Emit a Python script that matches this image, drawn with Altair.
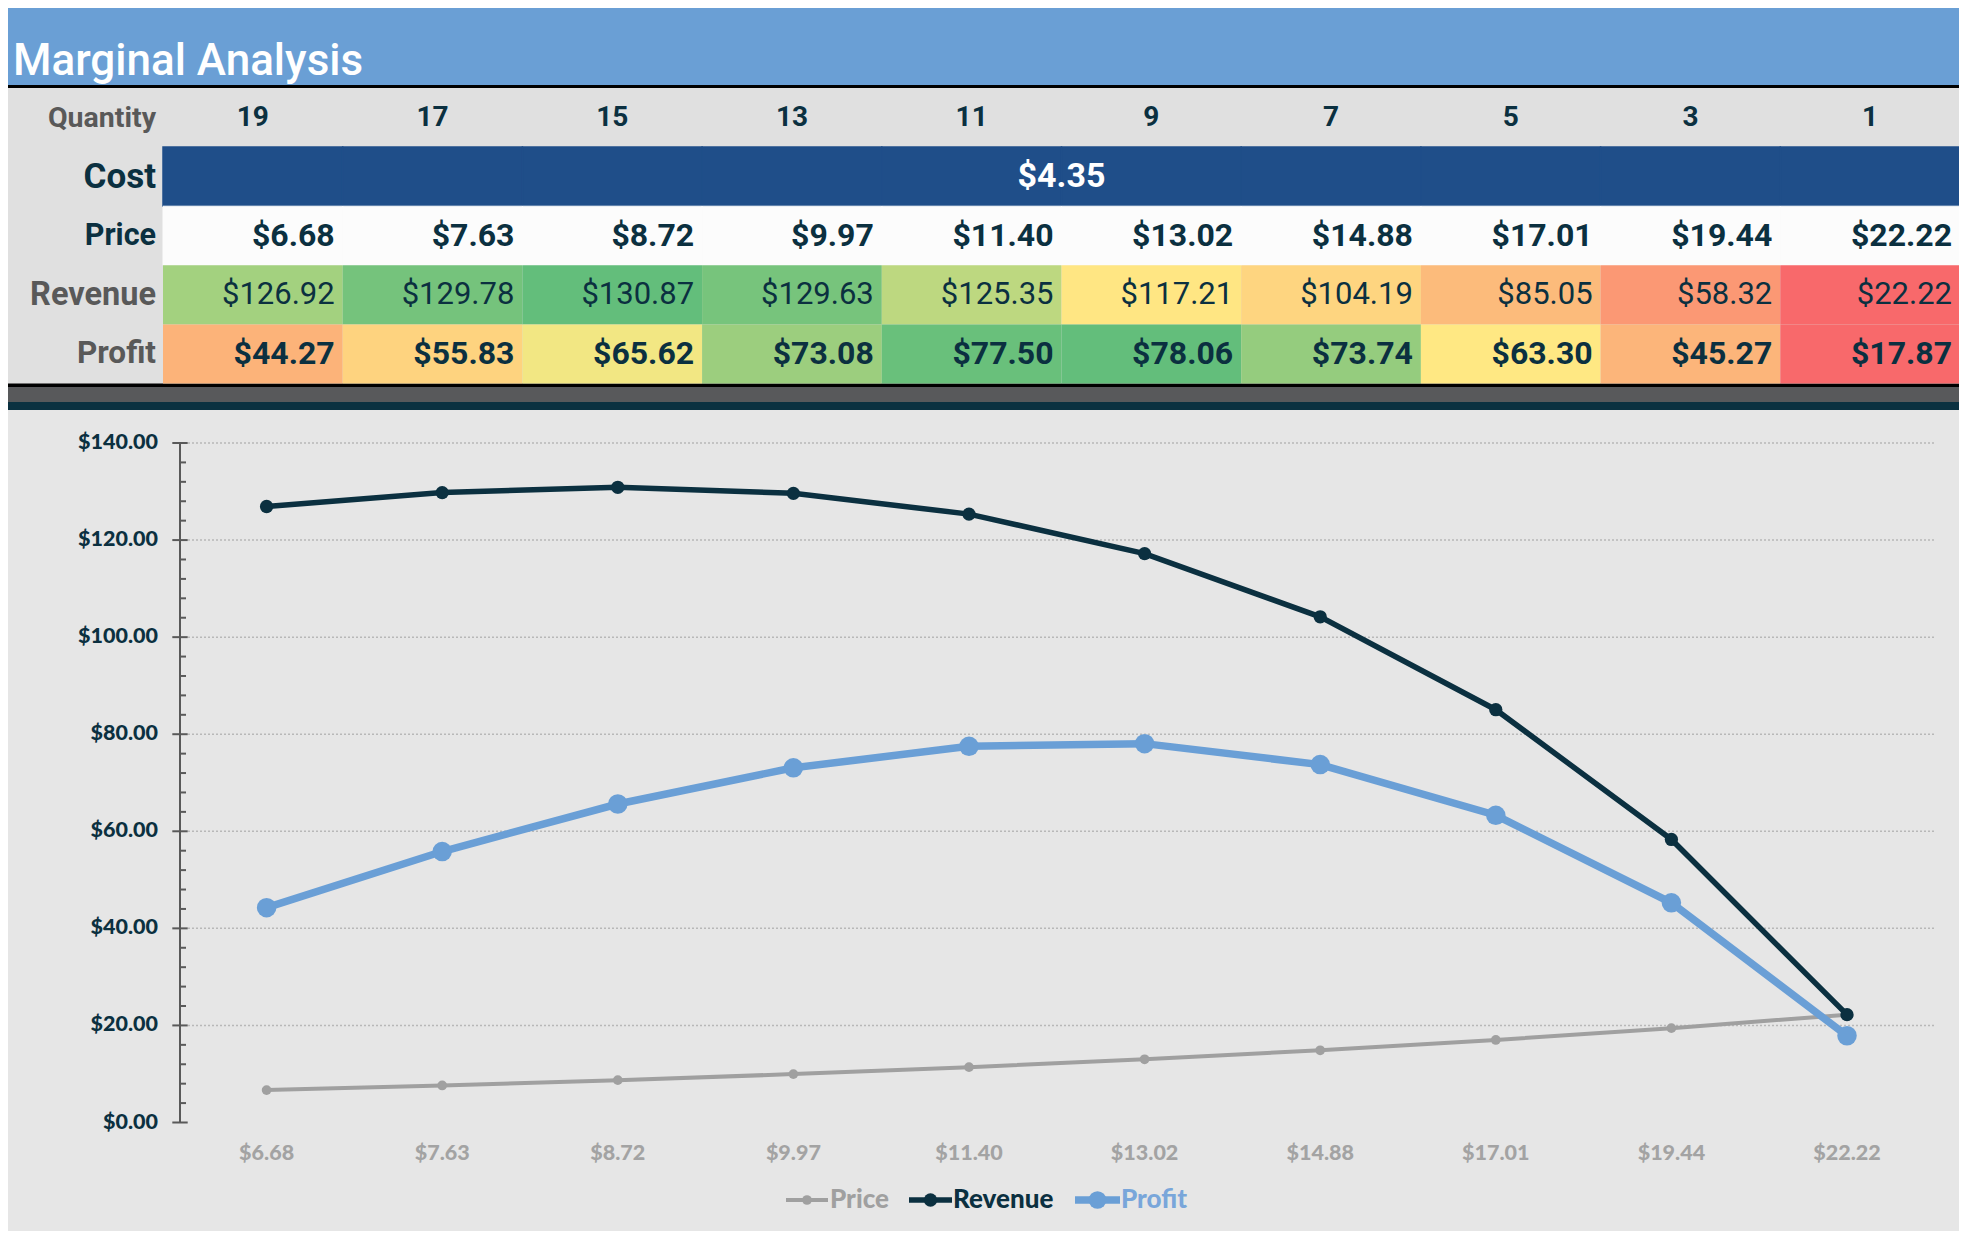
import math
import altair as alt
import numpy as np
import pandas as pd

# ---------------- data ----------------
quantities = [19, 17, 15, 13, 11, 9, 7, 5, 3, 1]
unit_cost = 4.35
prices = [6.68, 7.63, 8.72, 9.97, 11.40, 13.02, 14.88, 17.01, 19.44, 22.22]
revenue = [126.92, 129.78, 130.87, 129.63, 125.35, 117.21, 104.19, 85.05, 58.32, 22.22]
profit = [44.27, 55.83, 65.62, 73.08, 77.50, 78.06, 73.74, 63.30, 45.27, 17.87]
price_labels = ["$6.68", "$7.63", "$8.72", "$9.97", "$11.40", "$13.02",
                "$14.88", "$17.01", "$19.44", "$22.22"]
row_names = ["Quantity", "Cost", "Price", "Revenue", "Profit"]
series_names = ["Price", "Revenue", "Profit"]
y_ticks = [0, 20, 40, 60, 80, 100, 120, 140]
title_text = "Marginal Analysis"

# ---------------- styles ----------------
W, H = 1951, 1223
TEAL = "#0b3140"
DARK = "#0b3040"
GRAY_TXT = "#595959"
TITLE_BLUE = "#6a9fd5"
COST_BLUE = "#1f4e89"
LABEL_BG = "#e0e0e0"
CHART_BG = "#e6e6e6"
PRICE_C = "#a0a0a0"
PROFIT_C = "#6a9fd6"
HEAT = ["#F8696B", "#FFEB84", "#63BE7B"]

TABLE_X = [155, 1952]
TABLE_Y = [80, 375.5]
PLOT_X = [258.6, 1839]
PLOT_Y = [1114.5, 435]

# ---------------- tables ----------------
cells = pd.DataFrame({
    "q": quantities * 3,
    "row": ["Price"] * len(quantities) + ["Revenue"] * len(quantities) + ["Profit"] * len(quantities),
    "value": prices + revenue + profit,
})
qty_df = pd.DataFrame({"q": quantities, "row": "Quantity"})
cost_df = pd.DataFrame({"q": quantities, "row": "Cost", "value": unit_cost})
mid_q = quantities[len(quantities) // 2 - 1]
cost_mid = pd.DataFrame({"q": [mid_q], "row": ["Cost"], "value": [unit_cost]})
label_df = pd.DataFrame({"row": row_names})

line_df = pd.DataFrame({
    "label": price_labels * 3,
    "series": ["Price"] * 10 + ["Revenue"] * 10 + ["Profit"] * 10,
    "value": prices + revenue + profit,
})
tick_df = pd.DataFrame({"v": y_ticks})
minor_df = pd.DataFrame({"v": [v for v in range(0, 141, 4) if v % 20]})
xlab_df = pd.DataFrame({"label": price_labels})
one = pd.DataFrame({"a": [0]})


def XQ(**kw):
    return alt.X("q:O", scale=alt.Scale(type="band", domain=quantities, range=TABLE_X,
                                        paddingInner=0, paddingOuter=0), axis=None, **kw)


def YR():
    return alt.Y("row:N", scale=alt.Scale(type="band", domain=row_names, range=TABLE_Y,
                                          paddingInner=0, paddingOuter=0), axis=None)


def XP():
    return alt.X("label:N", scale=alt.Scale(type="point", domain=price_labels, range=PLOT_X,
                                            padding=0), axis=None)


def YV(field="value:Q"):
    return alt.Y(field, scale=alt.Scale(domain=[0, 140], range=PLOT_Y, nice=False, zero=True), axis=None)


def box(x0, x1, y0, y1, color):
    return alt.Chart(one).mark_rect(color=color).encode(
        x=alt.value(x0), x2=alt.value(x1), y=alt.value(y0), y2=alt.value(y1))


layers = []
# frame decorations
layers.append(box(0, W, 0, 379, "#000000"))
layers.append(box(0, W, 379, 394, "#58595b"))
layers.append(box(0, W, 402, H, CHART_BG))
layers.append(box(0, W, 0, 77, TITLE_BLUE))
layers.append(box(0, W, 80, 375.5, LABEL_BG))

# title
layers.append(alt.Chart(one).mark_text(
    text=title_text, align="left", baseline="alphabetic", font="Roboto",
    fontSize=44, fontWeight=500, color="white").encode(x=alt.value(5), y=alt.value(67)))

# quantity header
layers.append(alt.Chart(qty_df).mark_text(
    font="Roboto", fontSize=28, fontWeight="bold", color=DARK, baseline="middle").encode(
    x=XQ(), y=YR(), text="q:N"))

# cost row
layers.append(alt.Chart(cost_df).mark_rect(color=COST_BLUE, stroke=COST_BLUE, strokeWidth=1.5).encode(
    x=XQ(), y=YR()))
layers.append(alt.Chart(cost_mid).mark_text(
    font="Roboto", fontSize=34, fontWeight="bold", color="white", baseline="middle").encode(
    x=XQ(bandPosition=1), y=YR(), text=alt.Text("value:Q", format="$.2f")))

# price row
price_cells = alt.Chart(cells).transform_filter(alt.datum.row == "Price")
layers.append(price_cells.mark_rect(color="#fcfcfc", stroke="#fcfcfc", strokeWidth=1).encode(
    x=XQ(), y=YR()))
layers.append(price_cells.mark_text(
    font="Roboto", fontSize=32, fontWeight="bold", color=DARK, align="right",
    baseline="middle", dx=-8).encode(
    x=XQ(bandPosition=1), y=YR(), text=alt.Text("value:Q", format="$.2f")))

# revenue row
rev_cells = alt.Chart(cells).transform_filter(alt.datum.row == "Revenue")
layers.append(rev_cells.mark_rect().encode(
    x=XQ(), y=YR(),
    color=alt.Color("value:Q", legend=None, scale=alt.Scale(
        domain=[min(revenue), float(np.median(revenue)), max(revenue)],
        range=HEAT, interpolate="rgb"))))
layers.append(rev_cells.mark_text(
    font="Roboto", fontSize=31, fontWeight="normal", color=DARK, align="right",
    baseline="middle", dx=-8).encode(
    x=XQ(bandPosition=1), y=YR(), text=alt.Text("value:Q", format="$.2f")))

# profit row
pro_cells = alt.Chart(cells).transform_filter(alt.datum.row == "Profit")
layers.append(pro_cells.mark_rect().encode(
    x=XQ(), y=YR(),
    color=alt.Color("value:Q", legend=None, scale=alt.Scale(
        domain=[min(profit), float(np.median(profit)), max(profit)],
        range=HEAT, interpolate="rgb"))))
layers.append(pro_cells.mark_text(
    font="Roboto", fontSize=32, fontWeight="bold", color=DARK, align="right",
    baseline="middle", dx=-8).encode(
    x=XQ(bandPosition=1), y=YR(), text=alt.Text("value:Q", format="$.2f")))

# row labels
layers.append(alt.Chart(label_df).mark_text(
    font="Roboto", fontWeight="bold", align="right", baseline="middle").encode(
    x=alt.value(148), y=YR(), text="row:N",
    color=alt.Color("row:N", legend=None, scale=alt.Scale(
        type="ordinal", domain=row_names, range=[GRAY_TXT, DARK, DARK, GRAY_TXT, GRAY_TXT])),
    size=alt.Size("row:N", legend=None, scale=alt.Scale(
        type="ordinal", domain=row_names, range=[28.5, 35, 30.5, 32.5, 31.5]))))

# ---------------- chart ----------------
# gridlines
layers.append(alt.Chart(tick_df).transform_filter(alt.datum.v > 0).mark_rule(
    color="#b8b8b8", strokeWidth=1.5, strokeDash=[2, 2]).encode(
    y=YV("v:Q"), x=alt.value(180), x2=alt.value(1926.6)))
# axis line and ticks
layers.append(alt.Chart(one).mark_rule(color="#595959", strokeWidth=2).encode(
    x=alt.value(172),
    y=alt.Y(datum=0, type="quantitative", scale=alt.Scale(domain=[0, 140], range=PLOT_Y, nice=False), axis=None),
    y2=alt.Y2(datum=140)))
layers.append(alt.Chart(tick_df).mark_rule(color="#595959", strokeWidth=2).encode(
    y=YV("v:Q"), x=alt.value(164.3), x2=alt.value(179.7)))
layers.append(alt.Chart(minor_df).mark_rule(color="#595959", strokeWidth=2).encode(
    y=YV("v:Q"), x=alt.value(172), x2=alt.value(178)))
# y labels
layers.append(alt.Chart(tick_df).mark_text(
    font="Lato", fontSize=21.5, fontWeight=900, color=DARK, align="right",
    baseline="middle").encode(
    y=YV("v:Q"), x=alt.value(150), text=alt.Text("v:Q", format="$.2f")))
# x labels
layers.append(alt.Chart(xlab_df).mark_text(
    font="Lato", fontSize=21.5, fontWeight=900, color="#a3a3a3", baseline="middle").encode(
    x=XP(), y=alt.value(1146), text="label:N"))

# series
series_style = {
    "Price": (PRICE_C, 4, 5.5),
    "Revenue": (DARK, 5.5, 7.5),
    "Profit": (PROFIT_C, 7.5, 11),
}
for s in series_names:
    c, lw, r = series_style[s]
    base = alt.Chart(line_df).transform_filter(alt.datum.series == s)
    layers.append(base.mark_line(color=c, strokeWidth=lw).encode(x=XP(), y=YV()))
    layers.append(base.mark_circle(color=c, size=math.pi * r * r, opacity=1).encode(x=XP(), y=YV()))

# legend
LEG_Y = 1192
legend_spec = [
    ("Price", PRICE_C, PRICE_C, 778, 820, 4, 5.5, 822),
    ("Revenue", DARK, DARK, 901, 944, 5.5, 7.5, 945),
    ("Profit", PROFIT_C, "#79a6da", 1067, 1112, 7.5, 10, 1113),
]
for name, c, tc, x0, x1, lw, r, tx in legend_spec:
    layers.append(alt.Chart(one).mark_rule(color=c, strokeWidth=lw).encode(
        x=alt.value(x0), x2=alt.value(x1), y=alt.value(LEG_Y)))
    layers.append(alt.Chart(one).mark_circle(color=c, size=math.pi * r * r, opacity=1).encode(
        x=alt.value((x0 + x1) / 2), y=alt.value(LEG_Y)))
    layers.append(alt.Chart(one).mark_text(
        text=name, font="Lato", fontSize=26, fontWeight=900, color=tc,
        align="left", baseline="middle").encode(x=alt.value(tx), y=alt.value(LEG_Y)))

chart = alt.layer(*layers).resolve_scale(
    x="independent", y="independent", color="independent", size="independent"
).properties(
    width=W, height=H, padding=0, autosize=alt.AutoSizeParams(type="none"),
    background=TEAL,
).configure_view(stroke=None)

chart.save("out.html", embed_options={"renderer": "svg", "actions": False})
